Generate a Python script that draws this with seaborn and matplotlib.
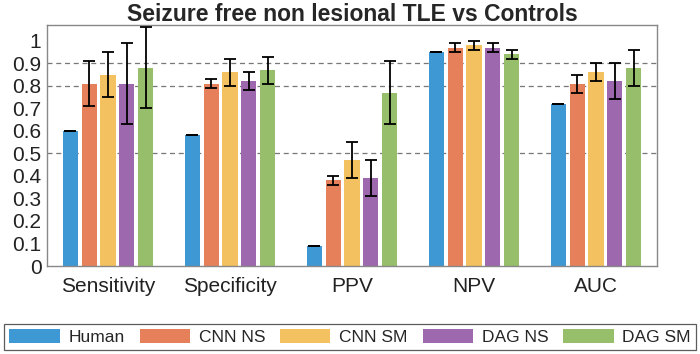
import numpy as np
import pandas as pd
import seaborn as sns
import matplotlib.pyplot as plt

metrics = ["Sensitivity", "Specificity", "PPV", "NPV", "AUC"]
models = ["Human", "CNN NS", "CNN SM", "DAG NS", "DAG SM"]

human = [0.60, 0.58, 0.09, 0.95, 0.72]
cnn_ns = [0.81, 0.81, 0.38, 0.97, 0.81]
cnn_sm = [0.85, 0.86, 0.47, 0.98, 0.86]
dag_ns = [0.81, 0.82, 0.39, 0.97, 0.82]
dag_sm = [0.88, 0.87, 0.77, 0.94, 0.88]

human_err = [0.0, 0.0, 0.0, 0.0, 0.0]
cnn_ns_err = [0.10, 0.02, 0.02, 0.02, 0.04]
cnn_sm_err = [0.10, 0.06, 0.08, 0.02, 0.04]
dag_ns_err = [0.18, 0.04, 0.08, 0.02, 0.08]
dag_sm_err = [0.18, 0.06, 0.14, 0.02, 0.08]

ref_lines = [0.5, 0.8, 0.9]
colors = ["#3D98D3", "#E5805A", "#F3C15F", "#9E68AE", "#97BE6A"]

vals = [human, cnn_ns, cnn_sm, dag_ns, dag_sm]
errs = [human_err, cnn_ns_err, cnn_sm_err, dag_ns_err, dag_sm_err]
df = pd.DataFrame({
    "metric": np.tile(metrics, len(models)),
    "model": np.repeat(models, len(metrics)),
    "value": np.concatenate(vals),
    "err": np.concatenate(errs),
})

sns.set_theme(style="white")
plt.rcParams["font.family"] = ["Liberation Sans", "DejaVu Sans"]

fig = plt.figure(figsize=(7.0, 3.54), dpi=100)
ax = fig.add_axes([47 / 700, 1 - 266 / 354, 610 / 700, 241 / 354])

sns.barplot(data=df, x="metric", y="value", hue="model", order=metrics,
            hue_order=models, palette=colors, width=0.77, gap=0.2,
            errorbar=None, saturation=1, linewidth=0, ax=ax, legend=True)

# error bars on bar centres (patches come grouped by hue)
bars = [p for p in ax.patches if p.get_height() > 0]
for i, p in enumerate(bars[:len(df)]):
    e = df["err"].iloc[i]
    ax.errorbar(p.get_x() + p.get_width() / 2, p.get_height(), yerr=e,
                fmt="none", ecolor="black", elinewidth=1.3, capsize=4,
                capthick=1.3, zorder=5)

for y in ref_lines:
    ax.axhline(y, color="#777777", lw=0.9, ls=(0, (4, 3)), zorder=0)

ax.set_ylim(0, 1.07)
ax.set_xlim(-0.5, 4.5)
ax.set_yticks(np.arange(0, 1.01, 0.1))
ax.set_yticklabels(["0"] + [f"{v:.1f}" for v in np.arange(0.1, 0.95, 0.1)] + ["1"])
ax.tick_params(axis="both", length=0, labelsize=15, colors="#222222", pad=4)
ax.tick_params(axis="x", pad=8)
ax.set_xlabel("")
ax.set_ylabel("")
for s in ax.spines.values():
    s.set_color("#888888")
    s.set_linewidth(1.0)

ax.set_title("Seizure free non lesional TLE vs Controls", fontsize=16.5,
             fontweight="bold", pad=3)

handles, labels = ax.get_legend_handles_labels()
ax.get_legend().remove()
leg = fig.legend(handles, labels, loc="lower left",
                 bbox_to_anchor=(4 / 700, 4 / 354, 692 / 700, 27 / 354),
                 mode="expand", ncol=5, frameon=True, fontsize=12.5,
                 handlelength=2.9, handleheight=0.85, borderaxespad=0,
                 fancybox=False, borderpad=0.3, handletextpad=0.5)
leg.get_frame().set_edgecolor("#333333")
leg.get_frame().set_linewidth(0.9)

fig.savefig("out.png", dpi=100)
